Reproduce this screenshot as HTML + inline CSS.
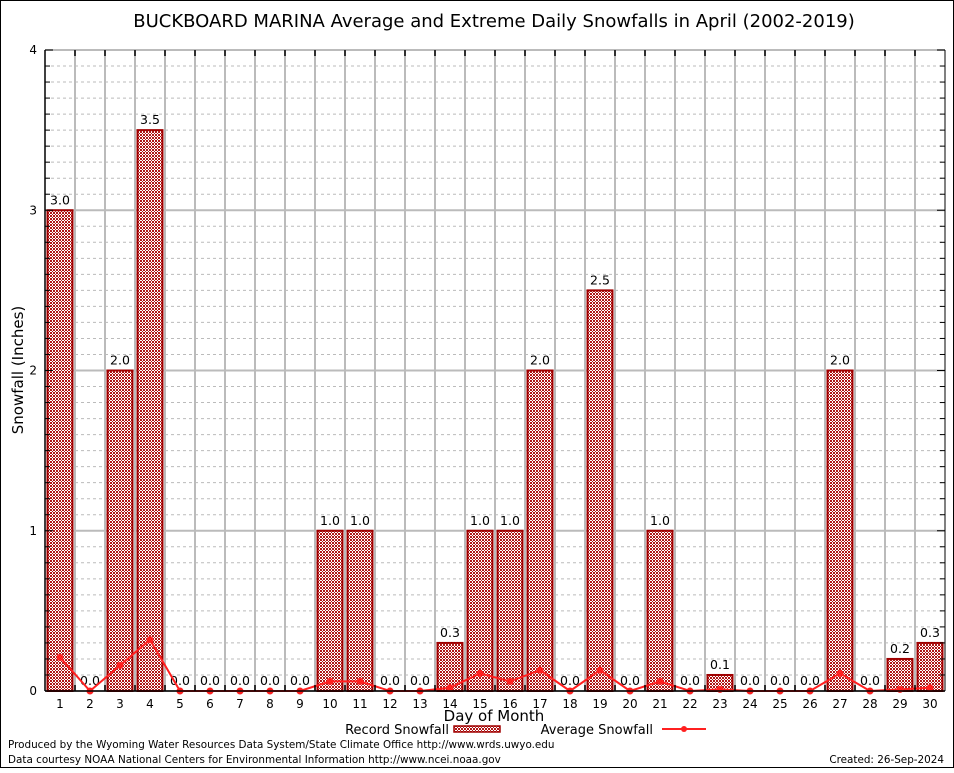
<!DOCTYPE html>
<html><head><meta charset="utf-8"><style>
body{margin:0;background:#fff;}
svg text{font-family:"DejaVu Sans","Liberation Sans",sans-serif;}
</style></head><body>
<svg id="chart" width="954" height="768" viewBox="0 0 954 768" xmlns="http://www.w3.org/2000/svg">
<defs>
<pattern id="hatch" width="3" height="3" patternUnits="userSpaceOnUse">
<rect width="3" height="3" fill="#fff"/>
<rect width="1" height="1" fill="#b01818"/>
<rect x="2" y="0" width="1" height="1" fill="#b01818"/>
<rect x="1" y="1" width="1" height="1" fill="#b01818"/>
<rect x="0" y="2" width="1" height="1" fill="#b01818"/>
<rect x="2" y="2" width="1" height="1" fill="#b01818"/>
</pattern>
</defs>
<rect x="0.5" y="0.5" width="953" height="767" fill="#fff" stroke="#000"/>
<text x="494" y="27" font-size="18" text-anchor="middle">BUCKBOARD MARINA Average and Extreme Daily Snowfalls in April (2002-2019)</text>
<g id="grid"></g>
<g id="bars"></g>
<g id="avg"></g>
<g id="axes"></g>
<text x="23" y="370" font-size="15" text-anchor="middle" transform="rotate(-90 23 370)">Snowfall (Inches)</text>
<text x="494" y="721" font-size="15" text-anchor="middle">Day of Month</text>
<g>
<text x="449" y="734" font-size="13" text-anchor="end">Record Snowfall</text>
<rect x="454" y="726" width="46" height="6" fill="url(#hatch)" stroke="#a00000" stroke-width="1.5"/>
<text x="653" y="734" font-size="13" text-anchor="end">Average Snowfall</text>
<line x1="662" y1="729" x2="706" y2="729" stroke="#ff2020" stroke-width="2"/>
<circle cx="684" cy="729" r="3" fill="#ff2020"/>
</g>
<text x="8" y="748" font-size="10.4">Produced by the Wyoming Water Resources Data System/State Climate Office http://www.wrds.uwyo.edu</text>
<text x="8" y="763" font-size="10.4">Data courtesy NOAA National Centers for Environmental Information http://www.ncei.noaa.gov</text>
<text x="944" y="763" font-size="10.4" text-anchor="end">Created:  26-Sep-2024</text>
</svg>
<script>
const days = [1,2,3,4,5,6,7,8,9,10,11,12,13,14,15,16,17,18,19,20,21,22,23,24,25,26,27,28,29,30];
const recordSnow = [3.0,0,2.0,3.5,0,0,0,0,0,1.0,1.0,0,0,0.3,1.0,1.0,2.0,0,2.5,0,1.0,0,0.1,0,0,0,2.0,0,0.2,0.3];
const avgSnow = [0.21,0,0.16,0.32,0,0,0,0,0,0.06,0.06,0,0,0.02,0.11,0.06,0.13,0,0.13,0,0.06,0,0.01,0,0,0,0.11,0,0.01,0.02];
const yTicks = [0,1,2,3,4];

const L=45,R=945,T=50,B=691,yMax=4;
const xs=d=>L+(d-0.5)*(R-L)/30;
const ys=v=>B-v*(B-T)/yMax;
const NS='http://www.w3.org/2000/svg';
function mk(tag,attrs,parent,txt){const e=document.createElementNS(NS,tag);for(const k in attrs)e.setAttribute(k,attrs[k]);if(txt!==undefined)e.textContent=txt;parent.appendChild(e);return e;}
const grid=document.getElementById('grid'),bars=document.getElementById('bars'),avg=document.getElementById('avg'),axes=document.getElementById('axes');
for(let i=1;i<yMax*10;i++){if(i%10===0)continue;const y=ys(i/10);
const l=mk('line',{x1:L,x2:R,y1:y,y2:y,stroke:'#bbb','stroke-dasharray':'3,3'},grid);


const t1=mk('line',{x1:L,x2:L+5,y1:y,y2:y,stroke:'#000'},axes);


const t2=mk('line',{x1:R-5,x2:R,y1:y,y2:y,stroke:'#000'},axes);

}
yTicks.forEach(v=>{const y=ys(v);
const l=mk('line',{x1:L,x2:R,y1:y,y2:y,stroke:'#bbb','stroke-width':2},grid);


const t=mk('text',{x:L-8,y:y+4,'font-size':12,'text-anchor':'end'},axes,String(v));


const tk=mk('line',{x1:L,x2:L+8,y1:y,y2:y,stroke:'#000'},axes);


const tk2=mk('line',{x1:R-8,x2:R,y1:y,y2:y,stroke:'#000'},axes);

});
for(let i=1;i<30;i++){const x=L+i*(R-L)/30;
const l=mk('line',{x1:x,x2:x,y1:T,y2:B,stroke:'#bbb','stroke-width':2},grid);


const t=mk('line',{x1:x,x2:x,y1:T,y2:T+6,stroke:'#000','stroke-width':1.5},axes);


const tb=mk('line',{x1:x,x2:x,y1:B-6,y2:B,stroke:'#000','stroke-width':1.5},axes);

}
days.forEach((d,i)=>{const v=recordSnow[i],cx=xs(d);
if(v>0){const r=mk('rect',{x:cx-12.5,y:ys(v),width:25,height:B-ys(v),fill:'url(#hatch)',stroke:'#a00000','stroke-width':2},bars);

}
const lb=mk('text',{x:cx,y:ys(v)-6,'font-size':12.5,'text-anchor':'middle'},bars,v.toFixed(1));


const xl=mk('text',{x:cx,y:B+17,'font-size':12,'text-anchor':'middle','font-family':'Liberation Serif, serif'},axes,String(d));

});
const pts=days.map((d,i)=>xs(d)+','+ys(avgSnow[i])).join(' ');
const pl=mk('polyline',{points:pts,fill:'none',stroke:'#ff2020','stroke-width':2},avg);


days.forEach((d,i)=>{const c=mk('circle',{cx:xs(d),cy:ys(avgSnow[i]),r:3.5,fill:'#ff2020'},avg);

});
const ax=mk('line',{x1:L,x2:L,y1:T,y2:B,stroke:'#000','stroke-width':1.5},axes);


const bx=mk('line',{x1:L,x2:R,y1:B,y2:B,stroke:'#000','stroke-width':1.5},axes);


const rx=mk('line',{x1:R,x2:R,y1:T,y2:B,stroke:'#000'},axes);


</script>
</body></html>
